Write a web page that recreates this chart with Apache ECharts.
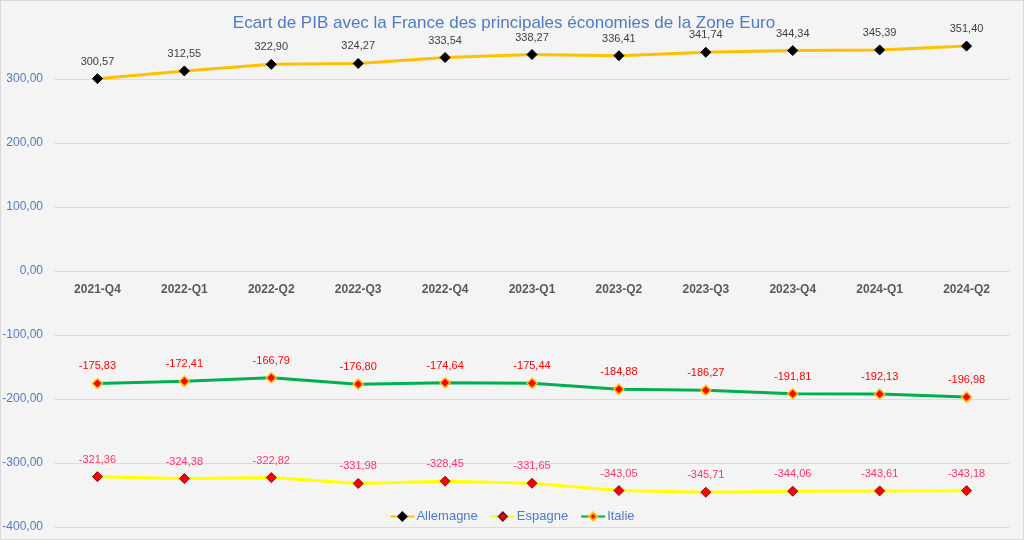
<!DOCTYPE html>
<html><head><meta charset="utf-8">
<script src="https://cdn.jsdelivr.net/npm/echarts@6/dist/echarts.min.js"></script>
<style>
html,body{margin:0;padding:0;background:#f4f4f4;}
#c{width:1022px;height:538px;border:1px solid #d9d9d9;}
</style></head>
<body><div id="c"></div>
<script>
const categories = ['2021-Q4','2022-Q1','2022-Q2','2022-Q3','2022-Q4','2023-Q1','2023-Q2','2023-Q3','2023-Q4','2024-Q1','2024-Q2'];
const allemagne = [300.57,312.55,322.90,324.27,333.54,338.27,336.41,341.74,344.34,345.39,351.40];
const espagne = [-321.36,-324.38,-322.82,-331.98,-328.45,-331.65,-343.05,-345.71,-344.06,-343.61,-343.18];
const italie = [-175.83,-172.41,-166.79,-176.80,-174.64,-175.44,-184.88,-186.27,-191.81,-192.13,-196.98];
const yTicks = [-400,-300,-200,-100,0,100,200,300,400];

const fmt = v => v.toFixed(2).replace('.', ',');
const font = 'Liberation Sans, Arial, sans-serif';

const chart = echarts.init(document.getElementById('c'));
chart.setOption({
  backgroundColor: '#f4f4f4',
  animation: false,
  textStyle: {fontFamily: font},
  title: {
    text: 'Ecart de PIB avec la France des principales économies de la Zone Euro',
    left: 498, top: 9, textAlign: 'center',
    textStyle: {color: '#4f7ac9', fontSize: 17, fontWeight: 'normal', fontFamily: font}
  },
  legend: {
    bottom: 11, left: 'center',
    itemWidth: 24, itemHeight: 10, itemGap: 12,
    textStyle: {color: '#4f7ac9', fontSize: 13, fontFamily: font, padding: [0, 0, 0, -3]},
    data: ['Allemagne','Espagne','Italie']
  },
  grid: {left: 53, right: 13, top: 14, bottom: 12, containLabel: false, outerBoundsMode: 'none'},
  xAxis: {
    type: 'category', data: categories, boundaryGap: true,
    offset: -256,
    axisLine: {show: false, onZero: false},
    axisTick: {show: false},
    axisLabel: {color: '#595959', fontWeight: 'bold', fontSize: 12, margin: 13, fontFamily: font},
    splitLine: {show: false}
  },
  yAxis: {
    type: 'value', min: yTicks[0], max: yTicks[yTicks.length-1], interval: 100,
    axisLine: {show: false}, axisTick: {show: false},
    axisLabel: {color: '#4f7ac9', fontSize: 12, margin: 11, showMaxLabel: false,
      formatter: v => fmt(v), fontFamily: font},
    splitLine: {show: true, lineStyle: {color: ['#dcdcdc','#dcdcdc','#dcdcdc','#dcdcdc','#dcdcdc','#dcdcdc','#dcdcdc','#dcdcdc','rgba(0,0,0,0)'], width: 1}}
  },
  series: [
    {
      name: 'Allemagne', type: 'line', data: allemagne,
      lineStyle: {color: '#ffc000', width: 3},
      itemStyle: {color: '#000000', borderColor: '#000000', borderWidth: 1},
      color: '#ffc000',
      symbol: 'diamond', symbolSize: 10,
      label: {show: true, position: 'top', distance: 6, color: '#404040', fontSize: 11, fontFamily: font,
        formatter: p => fmt(p.value)}
    },
    {
      name: 'Espagne', type: 'line', data: espagne,
      lineStyle: {color: '#ffff00', width: 3},
      itemStyle: {color: '#ff0000', borderColor: '#7a1010', borderWidth: 1},
      color: '#ffff00',
      symbol: 'diamond', symbolSize: 10,
      label: {show: true, position: 'top', distance: 6, color: '#ff3366', fontSize: 11, fontFamily: font,
        formatter: p => fmt(p.value)}
    },
    {
      name: 'Italie', type: 'line', data: italie,
      lineStyle: {color: '#00b050', width: 3},
      itemStyle: {color: '#ff0000', borderColor: '#ffc000', borderWidth: 1.5},
      color: '#00b050',
      symbol: 'diamond', symbolSize: 10,
      label: {show: true, position: 'top', distance: 6, color: '#ff0000', fontSize: 11, fontFamily: font,
        formatter: p => fmt(p.value)}
    }
  ]
});
</script></body></html>
